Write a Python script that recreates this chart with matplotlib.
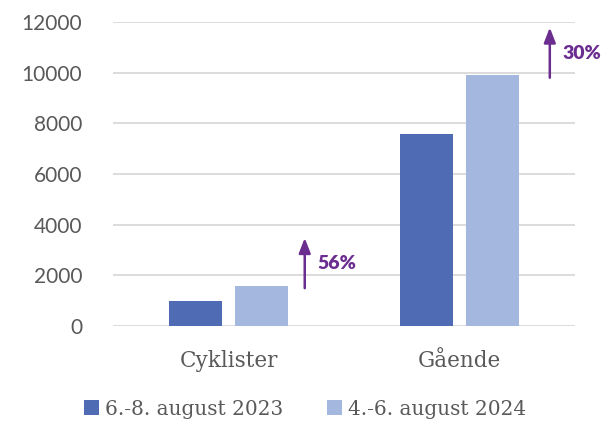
import matplotlib.pyplot as plt
import numpy as np

# data
categories = ["Cyklister", "Gående"]
series_labels = ["6.-8. august 2023", "4.-6. august 2024"]
values_2023 = [1000, 7600]
values_2024 = [1600, 9900]
changes = ["56%", "30%"]
yticks = [0, 2000, 4000, 6000, 8000, 10000, 12000]

dark = "#4f6bb3"
light = "#a4b7df"
purple = "#6b2d8f"

fig = plt.figure(figsize=(6.1, 4.22), dpi=100)
ax = fig.add_axes([0.185, 0.227, 0.758, 0.721])

x = np.arange(len(categories))
w = 0.228
off = 0.143
ax.bar(x - off, values_2023, w, color=dark, label=series_labels[0], zorder=3)
ax.bar(x + off, values_2024, w, color=light, label=series_labels[1], zorder=3)

# arrows with percent change, placed just right of each group
for i, txt in enumerate(changes):
    top = values_2024[i]
    ax_x = x[i] + 0.33 + (0.06 if i == 1 else 0)
    y0 = top - 100
    y1 = top + 1880
    ax.annotate("", xy=(ax_x, y1), xytext=(ax_x, y0),
                arrowprops=dict(arrowstyle="-|>,head_length=0.9,head_width=0.35",
                                color=purple, lw=1.8, shrinkA=0, shrinkB=0),
                annotation_clip=False)
    ax.text(ax_x + 0.055, top + 870, txt, color=purple, fontsize=14,
            fontweight="heavy", family="Lato", va="center", ha="left")

ax.set_xlim(-0.5, 1.5)
ax.set_ylim(0, 12000)
ax.set_yticks(yticks)
ax.set_yticklabels([str(v) for v in yticks], family="Lato", fontsize=15, color="#595959")
ax.set_xticks(x)
ax.set_xticklabels(categories, family="DejaVu Serif", fontsize=15.5, color="#595959")
ax.tick_params(axis="both", length=0)
ax.tick_params(axis="y", pad=22)
ax.tick_params(axis="x", pad=17)
ax.grid(axis="y", color="#d9d9d9", lw=1.3, zorder=0)
for s in ax.spines.values():
    s.set_visible(False)

leg = fig.legend(loc="lower center", bbox_to_anchor=(0.5, -0.035), ncol=2, frameon=False,
                 prop={"family": "DejaVu Serif", "size": 14.5}, handlelength=0.75,
                 handleheight=0.75, handletextpad=0.3, columnspacing=2.2)
for t in leg.get_texts():
    t.set_color("#595959")

fig.savefig("out.png", dpi=100)
